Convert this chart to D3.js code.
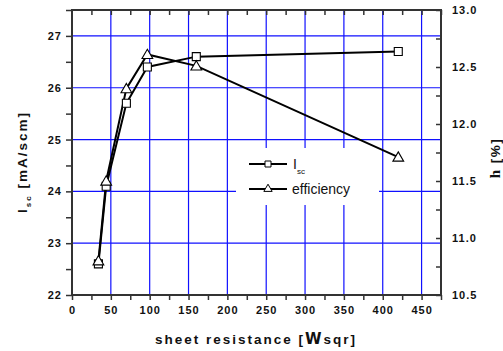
<!DOCTYPE html>
<html>
<head>
<meta charset="utf-8">
<script src="https://cdn.jsdelivr.net/npm/d3@7"></script>
<style>
  body { margin: 0; background: #fff; }
  svg { display: block; font-family: Arial, "Liberation Sans", sans-serif; }
</style>
</head>
<body>
<svg width="503" height="351"></svg>
<script>
// sheet resistance (ohm/sqr)
var resistance = [34, 44, 70, 97, 160, 420];
// short circuit current (mA/cm2), left axis
var isc = [22.6, 24.1, 25.7, 26.4, 26.6, 26.7];
// efficiency (%), right axis
var efficiency = [10.8, 11.5, 12.31, 12.61, 12.51, 11.71];

var xTicks = [0, 50, 100, 150, 200, 250, 300, 350, 400, 450];
var yLeftTicks = [22, 23, 24, 25, 26, 27];
var yRightTicks = [10.5, 11.0, 11.5, 12.0, 12.5, 13.0];

var svg = d3.select("svg"),
    margin = {top: 10, right: 62, bottom: 56, left: 72},
    width = 503 - margin.left - margin.right,
    height = 351 - margin.top - margin.bottom,
    g = svg.append("g").attr("transform", "translate(" + margin.left + "," + margin.top + ")");

var x = d3.scaleLinear().domain([0, 475]).range([0, width]);
var y = d3.scaleLinear().domain([22, 27.5]).range([height, 0]);
var y2 = d3.scaleLinear().domain([10.5, 13]).range([height, 0]);

// grid
g.append("g").selectAll("line").data(xTicks.slice(1))
  .enter().append("line")
    .attr("x1", function(d) { return x(d); }).attr("x2", function(d) { return x(d); })
    .attr("y1", 0).attr("y2", height)
    .attr("stroke", "#1010ff").attr("stroke-width", 1.2);
g.append("g").selectAll("line").data(yLeftTicks.slice(1))
  .enter().append("line")
    .attr("x1", 0).attr("x2", width)
    .attr("y1", function(d) { return y(d); }).attr("y2", function(d) { return y(d); })
    .attr("stroke", "#1010ff").attr("stroke-width", 1.2);

// legend background hides the grid
g.append("rect")
  .attr("x", 164).attr("y", 138).attr("width", 143).attr("height", 57)
  .attr("fill", "#fff");

// axes
var tickFont = function(sel) {
  sel.selectAll("text")
    .attr("font-size", "11px").attr("font-weight", "bold")
    .attr("letter-spacing", "1px").attr("fill", "#111");
  sel.select(".domain").remove();
  sel.selectAll("line").attr("stroke", "#333").attr("stroke-width", 1.5);
};

g.append("g")
    .attr("transform", "translate(0," + height + ")")
    .call(d3.axisBottom(x).tickValues(d3.range(0, 476, 25)).tickSize(5).tickPadding(6)
      .tickFormat(function(d) { return d % 50 === 0 ? d : ""; }))
    .call(tickFont);
g.append("g")
    .call(d3.axisTop(x).tickValues(d3.range(25, 476, 25)).tickSize(-5).tickFormat(""))
    .call(tickFont);
g.append("g")
    .call(d3.axisLeft(y).tickValues(d3.range(22, 27.51, 0.5)).tickSize(6).tickPadding(4)
      .tickFormat(function(d) { return d % 1 === 0 ? d : ""; }))
    .call(tickFont);
g.append("g")
    .attr("transform", "translate(" + width + ",0)")
    .call(d3.axisRight(y2).tickValues(d3.range(10.5, 13.01, 0.25)).tickSize(-5).tickPadding(11)
      .tickFormat(function(d) { return d % 0.5 === 0 ? d3.format(".1f")(d) : ""; }))
    .call(tickFont);

// frame
g.append("rect")
  .attr("width", width).attr("height", height)
  .attr("fill", "none").attr("stroke", "#333").attr("stroke-width", 2);

// series
var lineIsc = d3.line()
    .x(function(d, i) { return x(resistance[i]); })
    .y(function(d) { return y(d); });
var lineEff = d3.line()
    .x(function(d, i) { return x(resistance[i]); })
    .y(function(d) { return y2(d); });

g.append("path").datum(isc)
    .attr("fill", "none").attr("stroke", "#000").attr("stroke-width", 2)
    .attr("d", lineIsc);
g.append("path").datum(efficiency)
    .attr("fill", "none").attr("stroke", "#000").attr("stroke-width", 2)
    .attr("d", lineEff);

var square = d3.symbol().type(d3.symbolSquare).size(64);
var triangle = d3.symbol().type(d3.symbolTriangle).size(50);

g.append("g").selectAll("path").data(isc)
  .enter().append("path")
    .attr("transform", function(d, i) { return "translate(" + x(resistance[i]) + "," + y(d) + ")"; })
    .attr("d", square)
    .attr("fill", "#fff").attr("stroke", "#000").attr("stroke-width", 1.1);
g.append("g").selectAll("path").data(efficiency)
  .enter().append("path")
    .attr("transform", function(d, i) { return "translate(" + x(resistance[i]) + "," + (y2(d) + 1) + ")"; })
    .attr("d", triangle)
    .attr("fill", "#fff").attr("stroke", "#000").attr("stroke-width", 1.1);

// legend
var legend = g.append("g").attr("transform", "translate(177,154)");
legend.append("line").attr("x1", 0).attr("x2", 38).attr("y1", 0).attr("y2", 0)
  .attr("stroke", "#000").attr("stroke-width", 2);
legend.append("path").attr("transform", "translate(19,0)").attr("d", d3.symbol().type(d3.symbolSquare).size(36))
  .attr("fill", "#fff").attr("stroke", "#000").attr("stroke-width", 1);
var lt = legend.append("text").attr("x", 44).attr("y", 5)
  .attr("font-size", "14px").attr("fill", "#111");
lt.append("tspan").text("I");
lt.append("tspan").attr("dy", 5).attr("font-size", "8px").text("sc");

legend.append("line").attr("x1", 0).attr("x2", 38).attr("y1", 25).attr("y2", 25)
  .attr("stroke", "#000").attr("stroke-width", 2);
legend.append("path").attr("transform", "translate(19,25)").attr("d", d3.symbol().type(d3.symbolTriangle).size(30))
  .attr("fill", "#fff").attr("stroke", "#000").attr("stroke-width", 1);
legend.append("text").attr("x", 43).attr("y", 30)
  .attr("font-size", "14px").attr("fill", "#111").text("efficiency");

// axis titles
svg.append("text")
    .attr("transform", "translate(256,344)")
    .attr("text-anchor", "middle")
    .attr("font-size", "13.5px").attr("font-weight", "bold").attr("letter-spacing", "2px")
    .attr("fill", "#111")
    .text("sheet resistance [")
  .append("tspan").attr("font-family", "'DejaVu Sans'").attr("font-size", "15px").text("W")
  .select(function() { return this.parentNode; })
  .append("tspan").text("sqr]");

var lTitle = svg.append("text")
    .attr("transform", "translate(27,162) rotate(-90)")
    .attr("text-anchor", "middle")
    .attr("font-size", "13.5px").attr("font-weight", "bold").attr("letter-spacing", "2px")
    .attr("fill", "#111");
lTitle.append("tspan").text("I");
lTitle.append("tspan").attr("dy", 4).attr("font-size", "8px").text("sc");
lTitle.append("tspan").attr("dy", -4).text(" [mA/scm]");

var rTitle = svg.append("text")
    .attr("transform", "translate(500,158) rotate(-90)")
    .attr("text-anchor", "middle")
    .attr("font-size", "13.5px").attr("font-weight", "bold").attr("letter-spacing", "1.5px")
    .attr("fill", "#111");
rTitle.append("tspan").attr("font-family", "'Liberation Serif'").attr("font-size", "15px").text("h");
rTitle.append("tspan").text(" [%]");
</script>
</body>
</html>
